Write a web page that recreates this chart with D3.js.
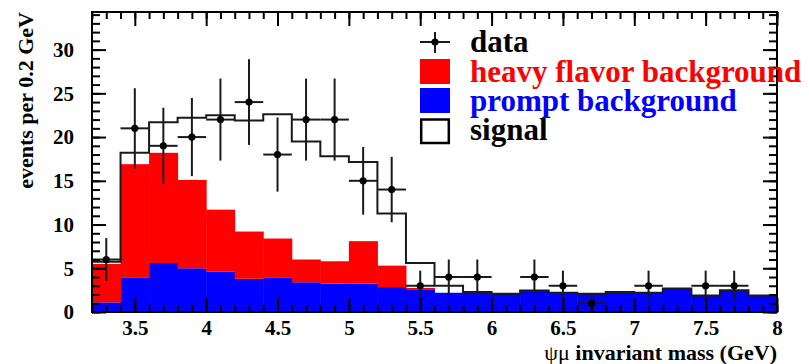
<!DOCTYPE html>
<html>
<head>
<meta charset="utf-8">
<script src="https://cdn.jsdelivr.net/npm/d3@7"></script>
<style>
  html, body { margin: 0; padding: 0; background: #fff; }
  svg { display: block; }
  text { font-family: "Liberation Serif", "Times New Roman", serif; font-weight: bold; }
</style>
</head>
<body>
<svg id="chart" width="809" height="364"></svg>
<script>
// Bin lower edges (GeV), 0.2 GeV wide
const binEdges = [3.2, 3.4, 3.6, 3.8, 4.0, 4.2, 4.4, 4.6, 4.8, 5.0, 5.2, 5.4,
                  5.6, 5.8, 6.0, 6.2, 6.4, 6.6, 6.8, 7.0, 7.2, 7.4, 7.6, 7.8];
const binWidth = 0.2;

// Stacked components (events per bin)
const prompt = [1.1, 3.9, 5.6, 5.0, 4.6, 3.8, 3.9, 3.4, 3.25, 3.25, 2.85, 2.6,
                2.2, 2.2, 2.1, 2.45, 2.2, 2.1, 2.3, 2.2, 2.7, 1.9, 2.5, 1.9];
const heavyFlavor = [4.4, 13.0, 12.6, 10.1, 7.1, 5.4, 4.5, 2.6, 2.55, 4.85, 2.45, 0.15,
                     0, 0, 0, 0, 0, 0, 0, 0, 0, 0, 0, 0];
const signal = [0.25, 1.3, 3.5, 7.1, 10.8, 12.7, 14.2, 13.5, 12.0, 9.05, 5.95, 2.85,
                0.8, 0.1, 0, 0, 0, 0, 0, 0, 0, 0, 0, 0];

// Observed counts and their errors (empty bins are not drawn)
const dataCounts = [6, 21, 19, 20, 22, 24, 18, 22, 22, 15, 14, 3,
                    4, 4, 0, 4, 3, 1, 0, 3, 0, 3, 3, 0];
const dataErrors = [2.45, 4.58, 4.36, 4.47, 4.69, 4.9, 4.24, 4.69, 4.69, 3.87, 3.74, 1.73,
                    2.0, 2.0, 0, 2.0, 1.73, 1.0, 0, 1.73, 0, 1.73, 1.73, 0];

// Axis ticks and labels
const xTickValues = [3.5, 4, 4.5, 5, 5.5, 6, 6.5, 7, 7.5, 8];
const xTickLabels = ["3.5", "4", "4.5", "5", "5.5", "6", "6.5", "7", "7.5", "8"];
const yTickValues = [0, 5, 10, 15, 20, 25, 30];
const yTickLabels = ["0", "5", "10", "15", "20", "25", "30"];

const legendLabels = ["data", "heavy flavor background", "prompt background", "signal"];

const serif = '"Liberation Serif", "Times New Roman", serif';
const plot = { left: 92, right: 777, top: 12, bottom: 312 };
const svg = d3.select("#chart");

const x = d3.scaleLinear().domain([3.2, 8.0]).range([plot.left, plot.right]);
const y = d3.scaleLinear().domain([0, 34.3]).range([plot.bottom, plot.top]);

const bins = binEdges.map((lo, i) => ({
  lo, hi: lo + binWidth, c: lo + binWidth / 2,
  p: prompt[i], h: heavyFlavor[i], s: signal[i],
  n: dataCounts[i], e: dataErrors[i]
}));

// Prompt (bottom of stack)
svg.append("g").selectAll("rect").data(bins).join("rect")
  .attr("x", d => x(d.lo)).attr("width", d => x(d.hi) - x(d.lo) + 0.5)
  .attr("y", d => y(d.p)).attr("height", d => y(0) - y(d.p))
  .attr("fill", "#0000ff");

// Heavy flavor on top of prompt
svg.append("g").selectAll("rect").data(bins.filter(d => d.h > 0)).join("rect")
  .attr("x", d => x(d.lo)).attr("width", d => x(d.hi) - x(d.lo) + 0.5)
  .attr("y", d => y(d.p + d.h)).attr("height", d => y(d.p) - y(d.p + d.h))
  .attr("fill", "#ff0000");

// Signal: outline of the full stack
const outlinePts = [];
bins.forEach(d => {
  const t = d.p + d.h + d.s;
  outlinePts.push([d.lo, t], [d.hi, t]);
});
svg.append("path")
  .attr("d", d3.line().x(d => x(d[0])).y(d => y(d[1]))(outlinePts))
  .attr("fill", "none").attr("stroke", "#1a1a1a").attr("stroke-width", 2);

// Data points with error bars
const pts = svg.append("g").selectAll("g").data(bins.filter(d => d.n > 0)).join("g");
pts.append("line")
  .attr("x1", d => x(d.lo)).attr("x2", d => x(d.hi))
  .attr("y1", d => y(d.n)).attr("y2", d => y(d.n))
  .attr("stroke", "#1a1a1a").attr("stroke-width", 2);
pts.append("line")
  .attr("x1", d => x(d.c)).attr("x2", d => x(d.c))
  .attr("y1", d => y(Math.max(0, d.n - d.e))).attr("y2", d => y(d.n + d.e))
  .attr("stroke", "#1a1a1a").attr("stroke-width", 2);
pts.append("circle")
  .attr("cx", d => x(d.c)).attr("cy", d => y(d.n)).attr("r", 3.6)
  .attr("fill", "#000");

// Axes: inward ticks on all four sides
const xMinor = d3.range(32, 81).map(v => v / 10);
const yMinor = d3.range(0, 35);
const fmtX = v => xTickLabels[xTickValues.indexOf(v)];
const fmtY = v => yTickLabels[yTickValues.indexOf(v)];

function styleAxis(g) {
  g.attr("font-family", serif).attr("font-size", 21);
  g.select(".domain").remove();
  g.selectAll(".tick line").attr("stroke", "#000").attr("stroke-width", 2);
  g.selectAll(".tick text").attr("fill", "#000")
    .style("font-family", serif).style("font-weight", "bold").style("font-size", "21px");
}

// bottom
svg.append("g").attr("transform", `translate(0,${plot.bottom})`)
  .call(d3.axisBottom(x).tickValues(xMinor).tickSize(-7).tickFormat(""))
  .call(styleAxis);
svg.append("g").attr("transform", `translate(0,${plot.bottom})`)
  .call(d3.axisBottom(x).tickValues(xTickValues).tickSize(-14).tickPadding(8).tickFormat(fmtX))
  .call(styleAxis);
// top
svg.append("g").attr("transform", `translate(0,${plot.top})`)
  .call(d3.axisTop(x).tickValues(xMinor).tickSize(-7).tickFormat(""))
  .call(styleAxis);
svg.append("g").attr("transform", `translate(0,${plot.top})`)
  .call(d3.axisTop(x).tickValues(xTickValues).tickSize(-14).tickFormat(""))
  .call(styleAxis);
// left
svg.append("g").attr("transform", `translate(${plot.left},0)`)
  .call(d3.axisLeft(y).tickValues(yMinor).tickSize(-8).tickFormat(""))
  .call(styleAxis);
svg.append("g").attr("transform", `translate(${plot.left},0)`)
  .call(d3.axisLeft(y).tickValues(yTickValues).tickSize(-14).tickPadding(18).tickFormat(fmtY))
  .call(styleAxis);
// right
svg.append("g").attr("transform", `translate(${plot.right},0)`)
  .call(d3.axisRight(y).tickValues(yMinor).tickSize(-8).tickFormat(""))
  .call(styleAxis);
svg.append("g").attr("transform", `translate(${plot.right},0)`)
  .call(d3.axisRight(y).tickValues(yTickValues).tickSize(-14).tickFormat(""))
  .call(styleAxis);

// Frame
svg.append("rect")
  .attr("x", plot.left).attr("y", plot.top)
  .attr("width", plot.right - plot.left).attr("height", plot.bottom - plot.top)
  .attr("fill", "none").attr("stroke", "#000").attr("stroke-width", 2);

// Axis titles
const xt = svg.append("text")
  .attr("x", plot.right).attr("y", 360)
  .attr("text-anchor", "end").style("font-size", "22px");
xt.append("tspan").style("font-weight", "normal").text("ψμ ");
xt.append("tspan").text("invariant mass (GeV)");

svg.append("text")
  .attr("transform", "translate(33,12) rotate(-90)")
  .attr("text-anchor", "end").style("font-size", "22px")
  .text("events per 0.2 GeV");

// Legend
const leg = svg.append("g");
const legX = 420, legW = 30, textX = 470;
// data entry
leg.append("line").attr("x1", legX).attr("x2", legX + legW).attr("y1", 42).attr("y2", 42)
  .attr("stroke", "#1a1a1a").attr("stroke-width", 2);
leg.append("line").attr("x1", legX + legW / 2).attr("x2", legX + legW / 2).attr("y1", 32).attr("y2", 53)
  .attr("stroke", "#1a1a1a").attr("stroke-width", 2);
leg.append("circle").attr("cx", legX + legW / 2).attr("cy", 42).attr("r", 3.6).attr("fill", "#000");
// filled entries
leg.append("rect").attr("x", legX).attr("y", 59).attr("width", legW).attr("height", 25).attr("fill", "#ff0000");
leg.append("rect").attr("x", legX).attr("y", 88).attr("width", legW).attr("height", 25).attr("fill", "#0000ff");
leg.append("rect").attr("x", legX + 1.2).attr("y", 119.5).attr("width", legW - 2.4).attr("height", 23.5)
  .attr("fill", "#fff").attr("stroke", "#000").attr("stroke-width", 2.5);

const legText = [
  { t: legendLabels[0], y: 52, c: "#000" },
  { t: legendLabels[1], y: 81.5, c: "#ff0000" },
  { t: legendLabels[2], y: 110.5, c: "#0000ff" },
  { t: legendLabels[3], y: 140, c: "#000" }
];
leg.selectAll("text.lt").data(legText).join("text").attr("class", "lt")
  .attr("x", textX).attr("y", d => d.y).attr("fill", d => d.c)
  .style("font-size", "31px").text(d => d.t);
</script>
</body>
</html>
